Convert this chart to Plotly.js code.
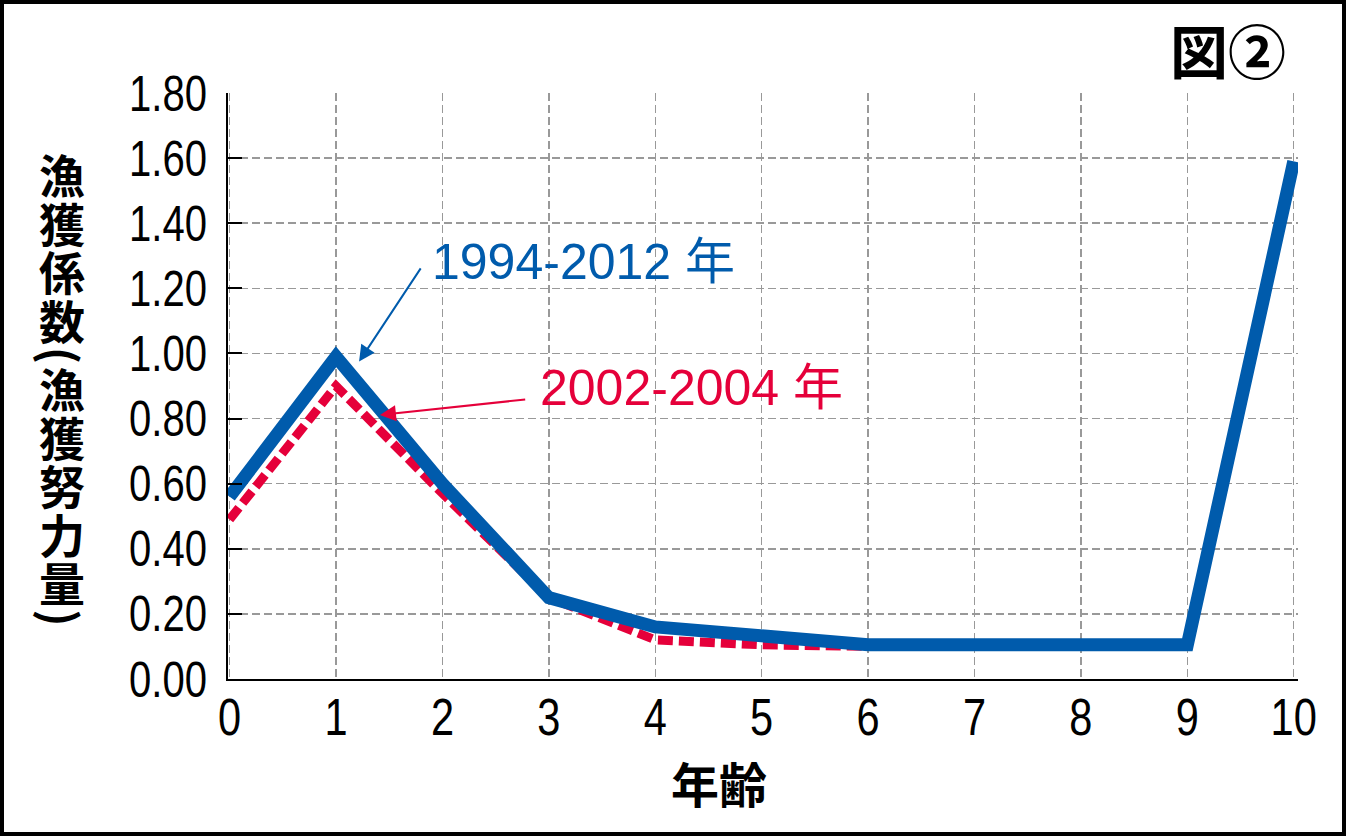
<!DOCTYPE html>
<html>
<head>
<meta charset="utf-8">
<script src="https://cdn.plot.ly/plotly-3.0.1.min.js"></script>
<style>
html,body{margin:0;padding:0;background:#fff;}
#wrap{position:relative;width:1346px;height:836px;}
#chart{width:1346px;height:836px;}
#frame{position:absolute;left:0;top:0;width:1346px;height:836px;box-sizing:border-box;border:4px solid #000;pointer-events:none;}
</style>
</head>
<body>
<div id="wrap"><div id="chart"></div><div id="frame"></div></div>
<script>
// ---- data ----
const ages = [0, 1, 2, 3, 4, 5, 6, 7, 8, 9, 10];
const f_1994_2012 = [0.56, 0.99, 0.60, 0.25, 0.16, 0.135, 0.105, 0.105, 0.105, 0.105, 1.59];
const f_2002_2004 = [0.49, 0.90, 0.57, 0.25, 0.12, 0.105, 0.10, 0.105, 0.105, 0.105, 1.59];
const seriesNames = ['1994-2012 年', '2002-2004 年'];
const yTickVals = [0, 0.2, 0.4, 0.6, 0.8, 1.0, 1.2, 1.4, 1.6, 1.8];
const yTickText = ['0.00', '0.20', '0.40', '0.60', '0.80', '1.00', '1.20', '1.40', '1.60', '1.80'];
const xTitle = '年齢';
const yTitle = '漁獲係数(漁獲努力量)';
const figLabel = '図②';

const BLUE = '#005BAC';
const RED = '#E5003A';
const NUM = '"Liberation Sans", Arial, sans-serif';
const TXT = '"Liberation Sans", Arial, "Noto Sans CJK JP", sans-serif';
const CJK = '"Noto Sans CJK JP", "Noto Sans CJK SC", sans-serif';

// layout geometry (pixels)
const ml = 228, mr = 48, W = 1346 - ml - mr;
const plotTop = 93, plotH = 586;
const yTitleCenter = [62, 391];

const traces = [
  {x: ages, y: f_2002_2004, name: seriesNames[1], mode: 'lines',
   line: {color: RED, width: 9, dash: '15px,6px'}},
  {x: ages, y: f_1994_2012, name: seriesNames[0], mode: 'lines',
   line: {color: BLUE, width: 13}}
];

const annotations = [
  {x: 1.88, y: 1.281, xref: 'x', yref: 'y', text: seriesNames[0], showarrow: false,
   xanchor: 'left', yanchor: 'middle', font: {family: TXT, size: 50, color: BLUE}},
  {x: 2.90, y: 0.894, xref: 'x', yref: 'y', text: seriesNames[1], showarrow: false,
   xanchor: 'left', yanchor: 'middle', font: {family: TXT, size: 50, color: RED}},
  {x: 1.217, y: 0.975, ax: 1.805, ay: 1.266, xref: 'x', yref: 'y', axref: 'x', ayref: 'y',
   text: '', showarrow: true, arrowhead: 2, arrowsize: 1.6, arrowwidth: 2, arrowcolor: BLUE},
  {x: 1.413, y: 0.811, ax: 2.792, ay: 0.859, xref: 'x', yref: 'y', axref: 'x', ayref: 'y',
   text: '', showarrow: true, arrowhead: 2, arrowsize: 1.6, arrowwidth: 2, arrowcolor: RED},
  {x: 0.459, y: -0.176, xref: 'paper', yref: 'paper', text: '<b>' + xTitle + '</b>', showarrow: false,
   xanchor: 'center', yanchor: 'middle', font: {family: CJK, size: 48, color: '#000'}},
  {x: 0.935, y: 1.075, xref: 'paper', yref: 'paper', text: '<b>' + figLabel + '</b>', showarrow: false,
   xanchor: 'center', yanchor: 'middle', font: {family: CJK, size: 58, color: '#000'}},
  {x: (yTitleCenter[0] - ml) / W, y: (plotTop + plotH - yTitleCenter[1]) / plotH,
   xref: 'paper', yref: 'paper', text: '<b>' + yTitle + '</b>', showarrow: false,
   xanchor: 'center', yanchor: 'middle', font: {family: CJK, size: 46, color: '#000'}}
];

const layout = {
  width: 1346, height: 836,
  margin: {l: ml, r: mr, t: plotTop, b: 836 - plotTop - plotH},
  paper_bgcolor: '#fff', plot_bgcolor: '#fff',
  showlegend: false,
  xaxis: {
    range: [-0.015, 10.04], tickvals: ages, ticktext: ages.map(String),
    showgrid: true, gridcolor: '#999', gridwidth: 1.5, griddash: '8px,4px',
    zeroline: false, showline: true, linecolor: '#000', linewidth: 2,
    ticks: '', ticklabelstandoff: -8,
    tickfont: {family: NUM, size: 52, color: '#000'}
  },
  yaxis: {
    range: [0, 1.8], tickvals: yTickVals, ticktext: yTickText,
    showgrid: true, gridcolor: '#999', gridwidth: 1.5, griddash: '8px,4px',
    zeroline: false, showline: true, linecolor: '#000', linewidth: 2,
    ticks: 'inside', ticklen: 14, tickwidth: 2, tickcolor: '#000',
    ticklabelstandoff: 9,
    tickfont: {family: NUM, size: 50, color: '#000'}
  },
  annotations: annotations
};

Plotly.newPlot('chart', traces, layout, {displayModeBar: false, staticPlot: true}).then(() => {
  // condensed look for the numeric tick labels
  document.querySelectorAll('.xtick text, .ytick text').forEach(t => {
    const w = t.getComputedTextLength();
    t.setAttribute('textLength', (w * 0.80).toFixed(1));
    t.setAttribute('lengthAdjust', 'spacingAndGlyphs');
  });
  // vertical (tategaki) y-axis title
  const svg = document.querySelector('#chart .main-svg');
  const el = Array.from(document.querySelectorAll('#chart .annotation-text'))
    .find(t => t.textContent === yTitle);
  if (el) {
    el.setAttribute('writing-mode', 'vertical-rl');
    el.style.writingMode = 'vertical-rl';
    el.style.letterSpacing = '2.5px';
    el.setAttribute('text-anchor', 'middle');
    const sr = svg.getBoundingClientRect();
    const r = el.getBoundingClientRect();
    const dx = yTitleCenter[0] - (r.left + r.width / 2 - sr.left);
    const dy = yTitleCenter[1] - (r.top + r.height / 2 - sr.top);
    el.setAttribute('x', (parseFloat(el.getAttribute('x') || 0) + dx).toFixed(1));
    el.setAttribute('y', (parseFloat(el.getAttribute('y') || 0) + dy).toFixed(1));
  }
});
</script>
</body>
</html>
